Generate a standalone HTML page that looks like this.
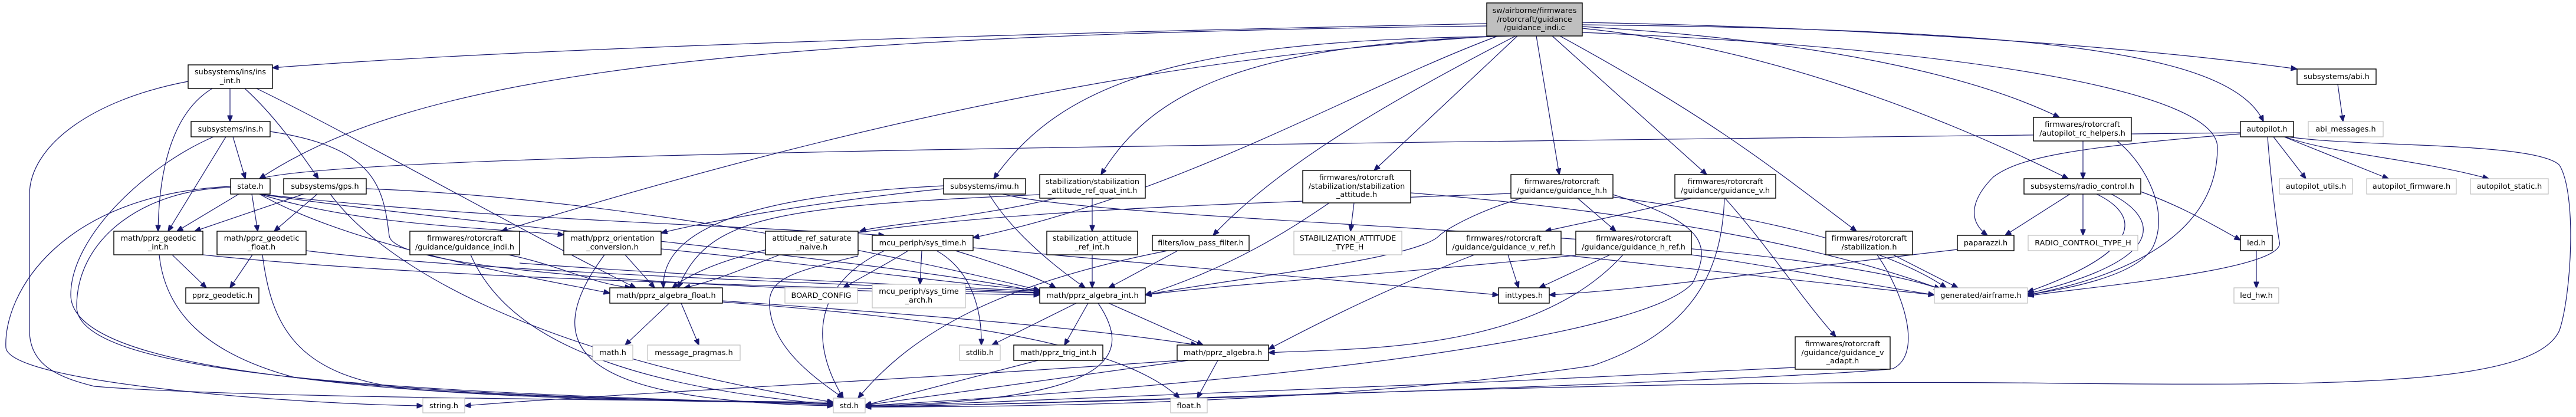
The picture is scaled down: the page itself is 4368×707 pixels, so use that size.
<!DOCTYPE html>
<html><head><meta charset="utf-8"><style>
html,body{margin:0;padding:0;background:#fff;}
svg{display:block;}
text{font-family:"DejaVu Sans","Liberation Sans",sans-serif;font-size:12.8px;fill:#000;text-anchor:middle;}
.e{fill:none;stroke:#191970;stroke-width:1.2;marker-end:url(#ah);}
.b{fill:#fff;stroke:#000;stroke-width:1.4;}
.g{fill:#fff;stroke:#bfbfbf;stroke-width:1.2;}
</style></head><body>
<svg width="4368" height="707" viewBox="0 0 4368 707" xmlns="http://www.w3.org/2000/svg">
<defs><marker id="ah" markerUnits="userSpaceOnUse" markerWidth="11" markerHeight="9" refX="10.5" refY="4.5" orient="auto"><path d="M0,0 L11,4.5 L0,9 z" fill="#191970" stroke="#191970"/></marker></defs>
<g>
<path class="e" d="M2521,40 C1800,55 900,80 462,115"/>
<path class="e" d="M2521,44 C1200,60 700,130 440,303"/>
<path class="e" d="M2535,61 C2100,90 1600,160 850,392"/>
<path class="e" d="M2540,61 C2300,150 2000,330 1650,403"/>
<path class="e" d="M2521,62 C2000,70 1800,140 1685,303"/>
<path class="e" d="M2560,61 C2100,75 1950,160 1867,296"/>
<path class="e" d="M2570,61 C2300,200 2150,300 2057,399"/>
<path class="e" d="M2573,61 L2330,289"/>
<path class="e" d="M2605,61 L2644,296"/>
<path class="e" d="M2632,61 L2894,296"/>
<path class="e" d="M2645,61 C2900,200 3000,280 3148,392"/>
<path class="e" d="M2683,45 C3100,70 3350,130 3492,199"/>
<path class="e" d="M2683,48 C3000,80 3300,200 3507,303"/>
<path class="e" d="M2683,38 C3300,50 3700,90 3895,117"/>
<path class="e" d="M2683,42 C3400,50 3780,80 3838,206"/>
<path class="e" d="M2683,55 C3300,80 3760,150 3760,250 C3760,400 3600,470 3438,500"/>
<path class="e" d="M3799,225 C2000,245 600,260 440,303"/>
<path class="e" d="M390,150 L390,206"/>
<path class="e" d="M360,150 C310,180 270,250 268,392"/>
<path class="e" d="M415,150 C470,200 510,260 540,303"/>
<path class="e" d="M435,150 C600,230 900,400 1078,488"/>
<path class="e" d="M319,138 C150,170 50,250 50,330 L50,560 C50,620 100,640 160,655 C400,675 1100,678 1413,682"/>
<path class="e" d="M395,232 L416,303"/>
<path class="e" d="M383,232 L285,392"/>
<path class="e" d="M362,232 C250,280 120,400 120,500 C120,640 700,672 1413,684"/>
<path class="e" d="M458,223 C640,250 650,320 660,400 C670,470 1400,495 1763,500"/>
<path class="e" d="M405,329 L300,392"/>
<path class="e" d="M427,329 L437,392"/>
<path class="e" d="M391,318 C250,320 130,400 130,520 C130,640 700,665 1413,686"/>
<path class="e" d="M391,316 C100,330 5,500 10,590 C20,650 500,685 717,688"/>
<path class="e" d="M440,329 C600,420 900,470 1034,497"/>
<path class="e" d="M440,329 C700,370 1500,440 1763,495"/>
<path class="e" d="M440,329 C600,380 800,385 956,398"/>
<path class="e" d="M440,329 C800,370 1200,380 1500,399"/>
<path class="e" d="M515,329 L330,392"/>
<path class="e" d="M538,329 L465,392"/>
<path class="e" d="M560,329 C650,450 900,600 1413,682"/>
<path class="e" d="M621,320 C900,330 1300,380 1763,492"/>
<path class="e" d="M292,432 L350,488"/>
<path class="e" d="M270,432 C280,530 350,600 500,640 C800,680 1200,680 1413,684"/>
<path class="e" d="M344,432 C700,470 1300,485 1763,497"/>
<path class="e" d="M428,432 L390,488"/>
<path class="e" d="M445,432 C460,550 500,640 700,660 C1000,680 1300,680 1413,684"/>
<path class="e" d="M519,425 C800,460 1400,480 1763,496"/>
<path class="e" d="M862,432 C950,450 1000,480 1070,488"/>
<path class="e" d="M798,432 C850,550 1000,650 1413,686"/>
<path class="e" d="M881,446 C1200,470 1500,480 1763,494"/>
<path class="e" d="M1060,432 L1110,488"/>
<path class="e" d="M1025,432 C900,600 1000,680 1413,688"/>
<path class="e" d="M1121,422 C1400,450 1600,480 1763,492"/>
<path class="e" d="M1322,432 C1250,460 1200,480 1160,488"/>
<path class="e" d="M1455,434 C1350,460 1300,470 1305,520 C1310,590 1380,640 1430,675"/>
<path class="e" d="M1852,336 L1852,392"/>
<path class="e" d="M1790,336 C1650,370 1500,380 1458,392"/>
<path class="e" d="M1763,330 C1300,350 1200,370 1150,488"/>
<path class="e" d="M1600,315 C1300,330 1120,380 1125,488"/>
<path class="e" d="M1600,320 C1400,340 1200,375 1121,395"/>
<path class="e" d="M1677,329 C1720,400 1800,460 1840,488"/>
<path class="e" d="M1700,329 C1900,380 3000,390 3290,490"/>
<path class="e" d="M1852,432 L1852,488"/>
<path class="e" d="M1588,425 C1650,460 1665,530 1664,585"/>
<path class="e" d="M1563,425 L1560,482"/>
<path class="e" d="M1540,425 C1500,450 1460,470 1430,488"/>
<path class="e" d="M1500,425 C1400,470 1360,560 1430,675"/>
<path class="e" d="M1620,425 C1700,450 1760,470 1790,488"/>
<path class="e" d="M1650,420 C2000,450 2300,480 2541,500"/>
<path class="e" d="M1997,425 L1880,488"/>
<path class="e" d="M1980,425 C1700,480 1550,560 1455,675"/>
<path class="e" d="M1825,514 L1682,585"/>
<path class="e" d="M1845,514 L1805,585"/>
<path class="e" d="M1880,514 L2040,585"/>
<path class="e" d="M1862,514 C1920,600 1900,680 1467,688"/>
<path class="e" d="M1135,514 L1060,585"/>
<path class="e" d="M1155,514 L1185,585"/>
<path class="e" d="M1225,510 C1500,530 1800,550 2030,585"/>
<path class="e" d="M1225,512 C1600,540 1900,580 2000,675"/>
<path class="e" d="M1760,611 C1650,640 1550,665 1467,687"/>
<path class="e" d="M2015,611 C1800,640 1600,670 1467,687"/>
<path class="e" d="M2065,611 L2030,675"/>
<path class="e" d="M2000,611 C1600,640 1000,670 788,688"/>
<path class="e" d="M2296,344 L2290,392"/>
<path class="e" d="M2254,344 C2200,380 2100,450 1942,500"/>
<path class="e" d="M2392,327 C2800,360 3100,420 3290,490"/>
<path class="e" d="M2675,336 L2740,392"/>
<path class="e" d="M2580,336 C2500,360 2450,390 2440,400 C2400,440 2100,470 1942,500"/>
<path class="e" d="M2562,328 C2000,350 1300,360 1140,488"/>
<path class="e" d="M2735,330 C2900,380 2900,420 2870,480 C2800,560 2300,640 1467,688"/>
<path class="e" d="M2735,334 C3000,370 3200,420 3300,488"/>
<path class="e" d="M2867,336 C2750,365 2650,385 2620,392"/>
<path class="e" d="M2925,336 C3000,420 3050,500 3113,571"/>
<path class="e" d="M2924,336 C2920,450 2880,560 2700,620 C2300,680 1800,690 1467,690"/>
<path class="e" d="M2500,432 C2350,490 2250,540 2151,592"/>
<path class="e" d="M2557,432 L2575,488"/>
<path class="e" d="M2647,432 C2900,460 3100,480 3280,500"/>
<path class="e" d="M2730,432 L2610,488"/>
<path class="e" d="M2752,432 C2600,600 2300,590 2151,598"/>
<path class="e" d="M2672,433 C2300,470 2100,480 1942,500"/>
<path class="e" d="M2868,432 C3000,450 3150,480 3280,500"/>
<path class="e" d="M3319,423 C3000,460 2800,490 2627,500"/>
<path class="e" d="M3210,432 L3320,488"/>
<path class="e" d="M3183,432 C3230,500 3260,600 3210,625 C3100,640 2000,680 1467,690"/>
<path class="e" d="M3044,623 C2500,650 1800,680 1467,690"/>
<path class="e" d="M3510,329 L3400,399"/>
<path class="e" d="M3532,329 L3532,399"/>
<path class="e" d="M3555,329 C3620,360 3650,420 3438,495"/>
<path class="e" d="M3580,329 C3660,370 3680,440 3438,498"/>
<path class="e" d="M3630,325 C3700,350 3750,380 3799,407"/>
<path class="e" d="M3532,239 L3532,303"/>
<path class="e" d="M3590,239 C3640,280 3680,360 3650,420 C3620,470 3500,490 3438,500"/>
<path class="e" d="M3799,227 C3500,250 3420,270 3380,300 C3350,330 3330,370 3370,399"/>
<path class="e" d="M3855,232 L3910,303"/>
<path class="e" d="M3873,232 L4050,303"/>
<path class="e" d="M3875,232 C3950,260 4100,270 4220,303"/>
<path class="e" d="M3880,232 C4000,250 4300,240 4340,280 C4370,330 4360,500 4340,560 C4300,650 4000,655 3500,650 C2800,640 2000,680 1467,690"/>
<path class="e" d="M3845,232 C3850,300 3860,380 3865,410 C3880,460 3500,490 3438,502"/>
<path class="e" d="M3964,143 L3973,206"/>
<path class="e" d="M3826,425 L3826,488"/>
</g>
<g>
<rect x="2521" y="5" width="162" height="56" fill="#bfbfbf" stroke="#000" stroke-width="1.4"/><text x="2602" y="22">sw/airborne/firmwares</text><text x="2602" y="37">/rotorcraft/guidance</text><text x="2602" y="51">/guidance_indi.c</text>
<rect class="b" x="319" y="110" width="143" height="40"/><text x="390.5" y="126">subsystems/ins/ins</text><text x="390.5" y="141">_int.h</text>
<rect class="b" x="324" y="206" width="134" height="26"/><text x="391" y="223">subsystems/ins.h</text>
<rect class="b" x="391" y="303" width="67" height="26"/><text x="424.5" y="320">state.h</text>
<rect class="b" x="481" y="303" width="140" height="26"/><text x="551" y="320">subsystems/gps.h</text>
<rect class="b" x="193" y="392" width="151" height="40"/><text x="268.5" y="408">math/pprz_geodetic</text><text x="268.5" y="423">_int.h</text>
<rect class="b" x="368" y="392" width="151" height="40"/><text x="443.5" y="408">math/pprz_geodetic</text><text x="443.5" y="423">_float.h</text>
<rect class="b" x="315" y="488" width="124" height="26"/><text x="377" y="505">pprz_geodetic.h</text>
<rect class="g" x="717" y="675" width="71" height="25"/><text x="752.5" y="692">string.h</text>
<rect class="b" x="695" y="392" width="186" height="40"/><text x="788" y="408">firmwares/rotorcraft</text><text x="788" y="423">/guidance/guidance_indi.h</text>
<rect class="b" x="956" y="392" width="165" height="40"/><text x="1038.5" y="408">math/pprz_orientation</text><text x="1038.5" y="423">_conversion.h</text>
<rect class="b" x="1298" y="392" width="157" height="40"/><text x="1376.5" y="408">attitude_ref_saturate</text><text x="1376.5" y="423">_naive.h</text>
<rect class="b" x="1034" y="488" width="191" height="26"/><text x="1129.5" y="505">math/pprz_algebra_float.h</text>
<rect class="g" x="1331" y="488" width="123" height="26"/><text x="1392.5" y="505">BOARD_CONFIG</text>
<rect class="g" x="1005" y="585" width="68" height="26"/><text x="1039" y="602">math.h</text>
<rect class="g" x="1098" y="585" width="157" height="26"/><text x="1176.5" y="602">message_pragmas.h</text>
<rect class="g" x="1413" y="675" width="54" height="25"/><text x="1440" y="692">std.h</text>
<rect class="b" x="1479" y="399" width="171" height="26"/><text x="1564.5" y="416">mcu_periph/sys_time.h</text>
<rect class="b" x="1600" y="303" width="139" height="26"/><text x="1669.5" y="320">subsystems/imu.h</text>
<rect class="b" x="1763" y="296" width="179" height="40"/><text x="1852.5" y="312">stabilization/stabilization</text><text x="1852.5" y="327">_attitude_ref_quat_int.h</text>
<rect class="b" x="1775" y="392" width="154" height="40"/><text x="1852" y="408">stabilization_attitude</text><text x="1852" y="423">_ref_int.h</text>
<rect class="b" x="1954" y="399" width="164" height="26"/><text x="2036" y="416">filters/low_pass_filter.h</text>
<rect class="g" x="1479" y="482" width="158" height="40"/><text x="1558" y="498">mcu_periph/sys_time</text><text x="1558" y="513">_arch.h</text>
<rect class="b" x="1763" y="488" width="179" height="26"/><text x="1852.5" y="505">math/pprz_algebra_int.h</text>
<rect class="g" x="1627" y="585" width="69" height="26"/><text x="1661.5" y="602">stdlib.h</text>
<rect class="b" x="1719" y="585" width="151" height="26"/><text x="1794.5" y="602">math/pprz_trig_int.h</text>
<rect class="b" x="1996" y="585" width="155" height="26"/><text x="2073.5" y="602">math/pprz_algebra.h</text>
<rect class="g" x="1985" y="675" width="62" height="25"/><text x="2016" y="692">float.h</text>
<rect class="b" x="2209" y="289" width="183" height="55"/><text x="2300.5" y="305">firmwares/rotorcraft</text><text x="2300.5" y="320">/stabilization/stabilization</text><text x="2300.5" y="334">_attitude.h</text>
<rect class="g" x="2194" y="392" width="183" height="40"/><text x="2285.5" y="408">STABILIZATION_ATTITUDE</text><text x="2285.5" y="423">_TYPE_H</text>
<rect class="b" x="2562" y="296" width="173" height="40"/><text x="2648.5" y="312">firmwares/rotorcraft</text><text x="2648.5" y="327">/guidance/guidance_h.h</text>
<rect class="b" x="2453" y="392" width="194" height="40"/><text x="2550" y="408">firmwares/rotorcraft</text><text x="2550" y="423">/guidance/guidance_v_ref.h</text>
<rect class="b" x="2672" y="392" width="196" height="40"/><text x="2770" y="408">firmwares/rotorcraft</text><text x="2770" y="423">/guidance/guidance_h_ref.h</text>
<rect class="b" x="2541" y="488" width="86" height="26"/><text x="2584" y="505">inttypes.h</text>
<rect class="b" x="2840" y="296" width="171" height="40"/><text x="2925.5" y="312">firmwares/rotorcraft</text><text x="2925.5" y="327">/guidance/guidance_v.h</text>
<rect class="b" x="3448" y="199" width="166" height="40"/><text x="3531" y="215">firmwares/rotorcraft</text><text x="3531" y="230">/autopilot_rc_helpers.h</text>
<rect class="b" x="3432" y="303" width="198" height="26"/><text x="3531" y="320">subsystems/radio_control.h</text>
<rect class="b" x="3096" y="392" width="147" height="40"/><text x="3169.5" y="408">firmwares/rotorcraft</text><text x="3169.5" y="423">/stabilization.h</text>
<rect class="b" x="3319" y="399" width="96" height="26"/><text x="3367" y="416">paparazzi.h</text>
<rect class="g" x="3439" y="399" width="186" height="26"/><text x="3532" y="416">RADIO_CONTROL_TYPE_H</text>
<rect class="g" x="3280" y="488" width="158" height="26"/><text x="3359" y="505">generated/airframe.h</text>
<rect class="b" x="3044" y="571" width="161" height="55"/><text x="3124.5" y="587">firmwares/rotorcraft</text><text x="3124.5" y="602">/guidance/guidance_v</text><text x="3124.5" y="616">_adapt.h</text>
<rect class="b" x="3895" y="117" width="134" height="26"/><text x="3962" y="134">subsystems/abi.h</text>
<rect class="g" x="3914" y="206" width="127" height="26"/><text x="3977.5" y="223">abi_messages.h</text>
<rect class="b" x="3799" y="206" width="90" height="26"/><text x="3844" y="223">autopilot.h</text>
<rect class="g" x="3865" y="303" width="124" height="26"/><text x="3927" y="320">autopilot_utils.h</text>
<rect class="g" x="4013" y="303" width="152" height="26"/><text x="4089" y="320">autopilot_firmware.h</text>
<rect class="g" x="4189" y="303" width="132" height="26"/><text x="4255" y="320">autopilot_static.h</text>
<rect class="b" x="3799" y="399" width="54" height="26"/><text x="3826" y="416">led.h</text>
<rect class="g" x="3788" y="488" width="76" height="26"/><text x="3826" y="505">led_hw.h</text>
</g>
</svg>
</body></html>
